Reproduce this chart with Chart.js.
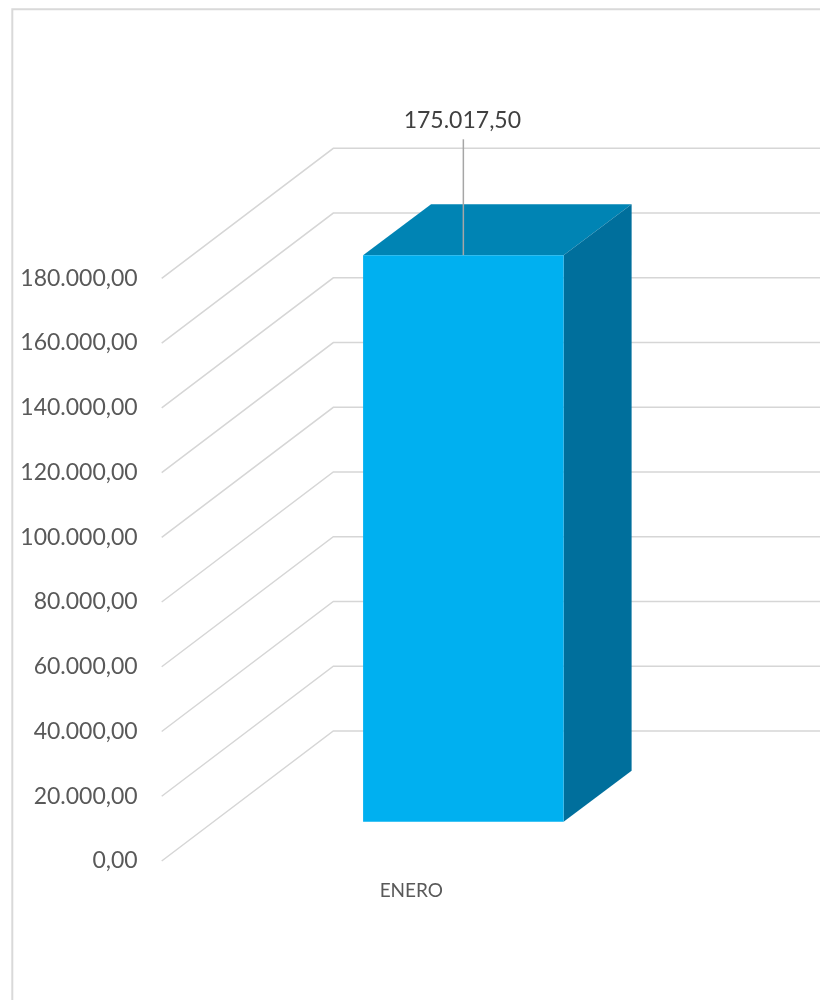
<!DOCTYPE html>
<html>
<head>
<meta charset="utf-8">
<script src="https://cdn.jsdelivr.net/npm/chart.js@4"></script>
<style>
  html, body { margin: 0; padding: 0; background: #fff; }
  canvas { display: block; }
</style>
</head>
<body>
<canvas id="myChart" width="820" height="1000"></canvas>
<script>
const categories = ["ENERO"];
const values = [175017.5];
const valueLabels = ["175.017,50"];

// 3d offsets
const wallDx = 171.6, wallDy = -130;   // floor depth of the gridlines
const barDx = 52, barDy = -39.3;       // where the bar sits inside the floor
const capDx = 68, capDy = -51;         // depth of the bar itself

const fmt = v => v.toLocaleString("de-DE", {minimumFractionDigits: 2, maximumFractionDigits: 2});

const poly = (ctx, pts, color) => {
    ctx.fillStyle = color;
    ctx.beginPath();
    pts.forEach((p, i) => i ? ctx.lineTo(p[0], p[1]) : ctx.moveTo(p[0], p[1]));
    ctx.closePath();
    ctx.fill();
};

const frame3d = {
    id: "frame3d",
    beforeDraw(chart) {
        // outer chart border, only top and left are in shot
        const ctx = chart.ctx;
        ctx.save();
        ctx.strokeStyle = "#d9d9d9";
        ctx.lineWidth = 2;
        ctx.beginPath();
        ctx.moveTo(12.3, 1000);
        ctx.lineTo(12.3, 9.3);
        ctx.lineTo(820, 9.3);
        ctx.stroke();
        ctx.restore();
    },
    beforeDatasetsDraw(chart) {
        const ctx = chart.ctx, y = chart.scales.y, left = chart.chartArea.left;
        ctx.save();
        ctx.strokeStyle = "#d6d6d6";
        ctx.lineWidth = 1.5;
        y.ticks.forEach(t => {
            const py = y.getPixelForValue(t.value);
            ctx.beginPath();
            ctx.moveTo(left, py);
            ctx.lineTo(left + wallDx, py + wallDy);
            ctx.lineTo(820, py + wallDy);
            ctx.stroke();
        });
        ctx.restore();
    },
    beforeDatasetDraw(chart) {
        const ctx = chart.ctx;
        const bar = chart.getDatasetMeta(0).data[0];
        const l = bar.x - bar.width / 2 + barDx, r = l + bar.width;
        const t = bar.y + barDy, b = bar.base + barDy;
        poly(ctx, [[l, t], [l + capDx, t + capDy], [r + capDx, t + capDy], [r, t]], "#0084b4");
        poly(ctx, [[r, t], [r + capDx, t + capDy], [r + capDx, b + capDy], [r, b]], "#006f9c");
        ctx.save();
        ctx.translate(barDx, barDy);
    },
    afterDatasetDraw(chart) {
        const ctx = chart.ctx;
        ctx.restore();
        // leader line and data label
        const bar = chart.getDatasetMeta(0).data[0];
        const cx = bar.x + barDx, top = bar.y + barDy;
        ctx.save();
        ctx.strokeStyle = "#a6a6a6";
        ctx.lineWidth = 1.5;
        ctx.beginPath();
        ctx.moveTo(cx, top);
        ctx.lineTo(cx, 139.3);
        ctx.stroke();
        ctx.fillStyle = "#404040";
        ctx.font = "23px Lato";
        ctx.textAlign = "center";
        ctx.textBaseline = "middle";
        ctx.fillText(valueLabels[0], cx - 1, 121);
        ctx.restore();
    }
};

new Chart(document.getElementById("myChart"), {
    type: "bar",
    data: {
        labels: categories,
        datasets: [{
            data: values,
            backgroundColor: "#00b0f0",
            barPercentage: 0.4016,
            categoryPercentage: 1,
            clip: false
        }]
    },
    options: {
        responsive: false,
        animation: false,
        events: [],
        layout: {padding: {top: 278.3, right: 159, bottom: 0, left: 0}},
        plugins: {legend: {display: false}, title: {display: false}, tooltip: {enabled: false}},
        scales: {
            x: {
                grid: {display: false},
                border: {display: false},
                ticks: {color: "#595959", font: {family: "Lato", size: 19}, padding: 10, maxRotation: 0},
                afterFit: s => { s.height = 139; }
            },
            y: {
                min: 0,
                max: 180000,
                grid: {display: false, drawTicks: false},
                border: {display: false},
                ticks: {
                    stepSize: 20000,
                    color: "#595959",
                    font: {family: "Lato", size: 23},
                    padding: 24,
                    callback: v => fmt(v)
                },
                afterFit: s => { s.width = 161.7; }
            }
        }
    },
    plugins: [frame3d]
});
</script>
</body>
</html>
